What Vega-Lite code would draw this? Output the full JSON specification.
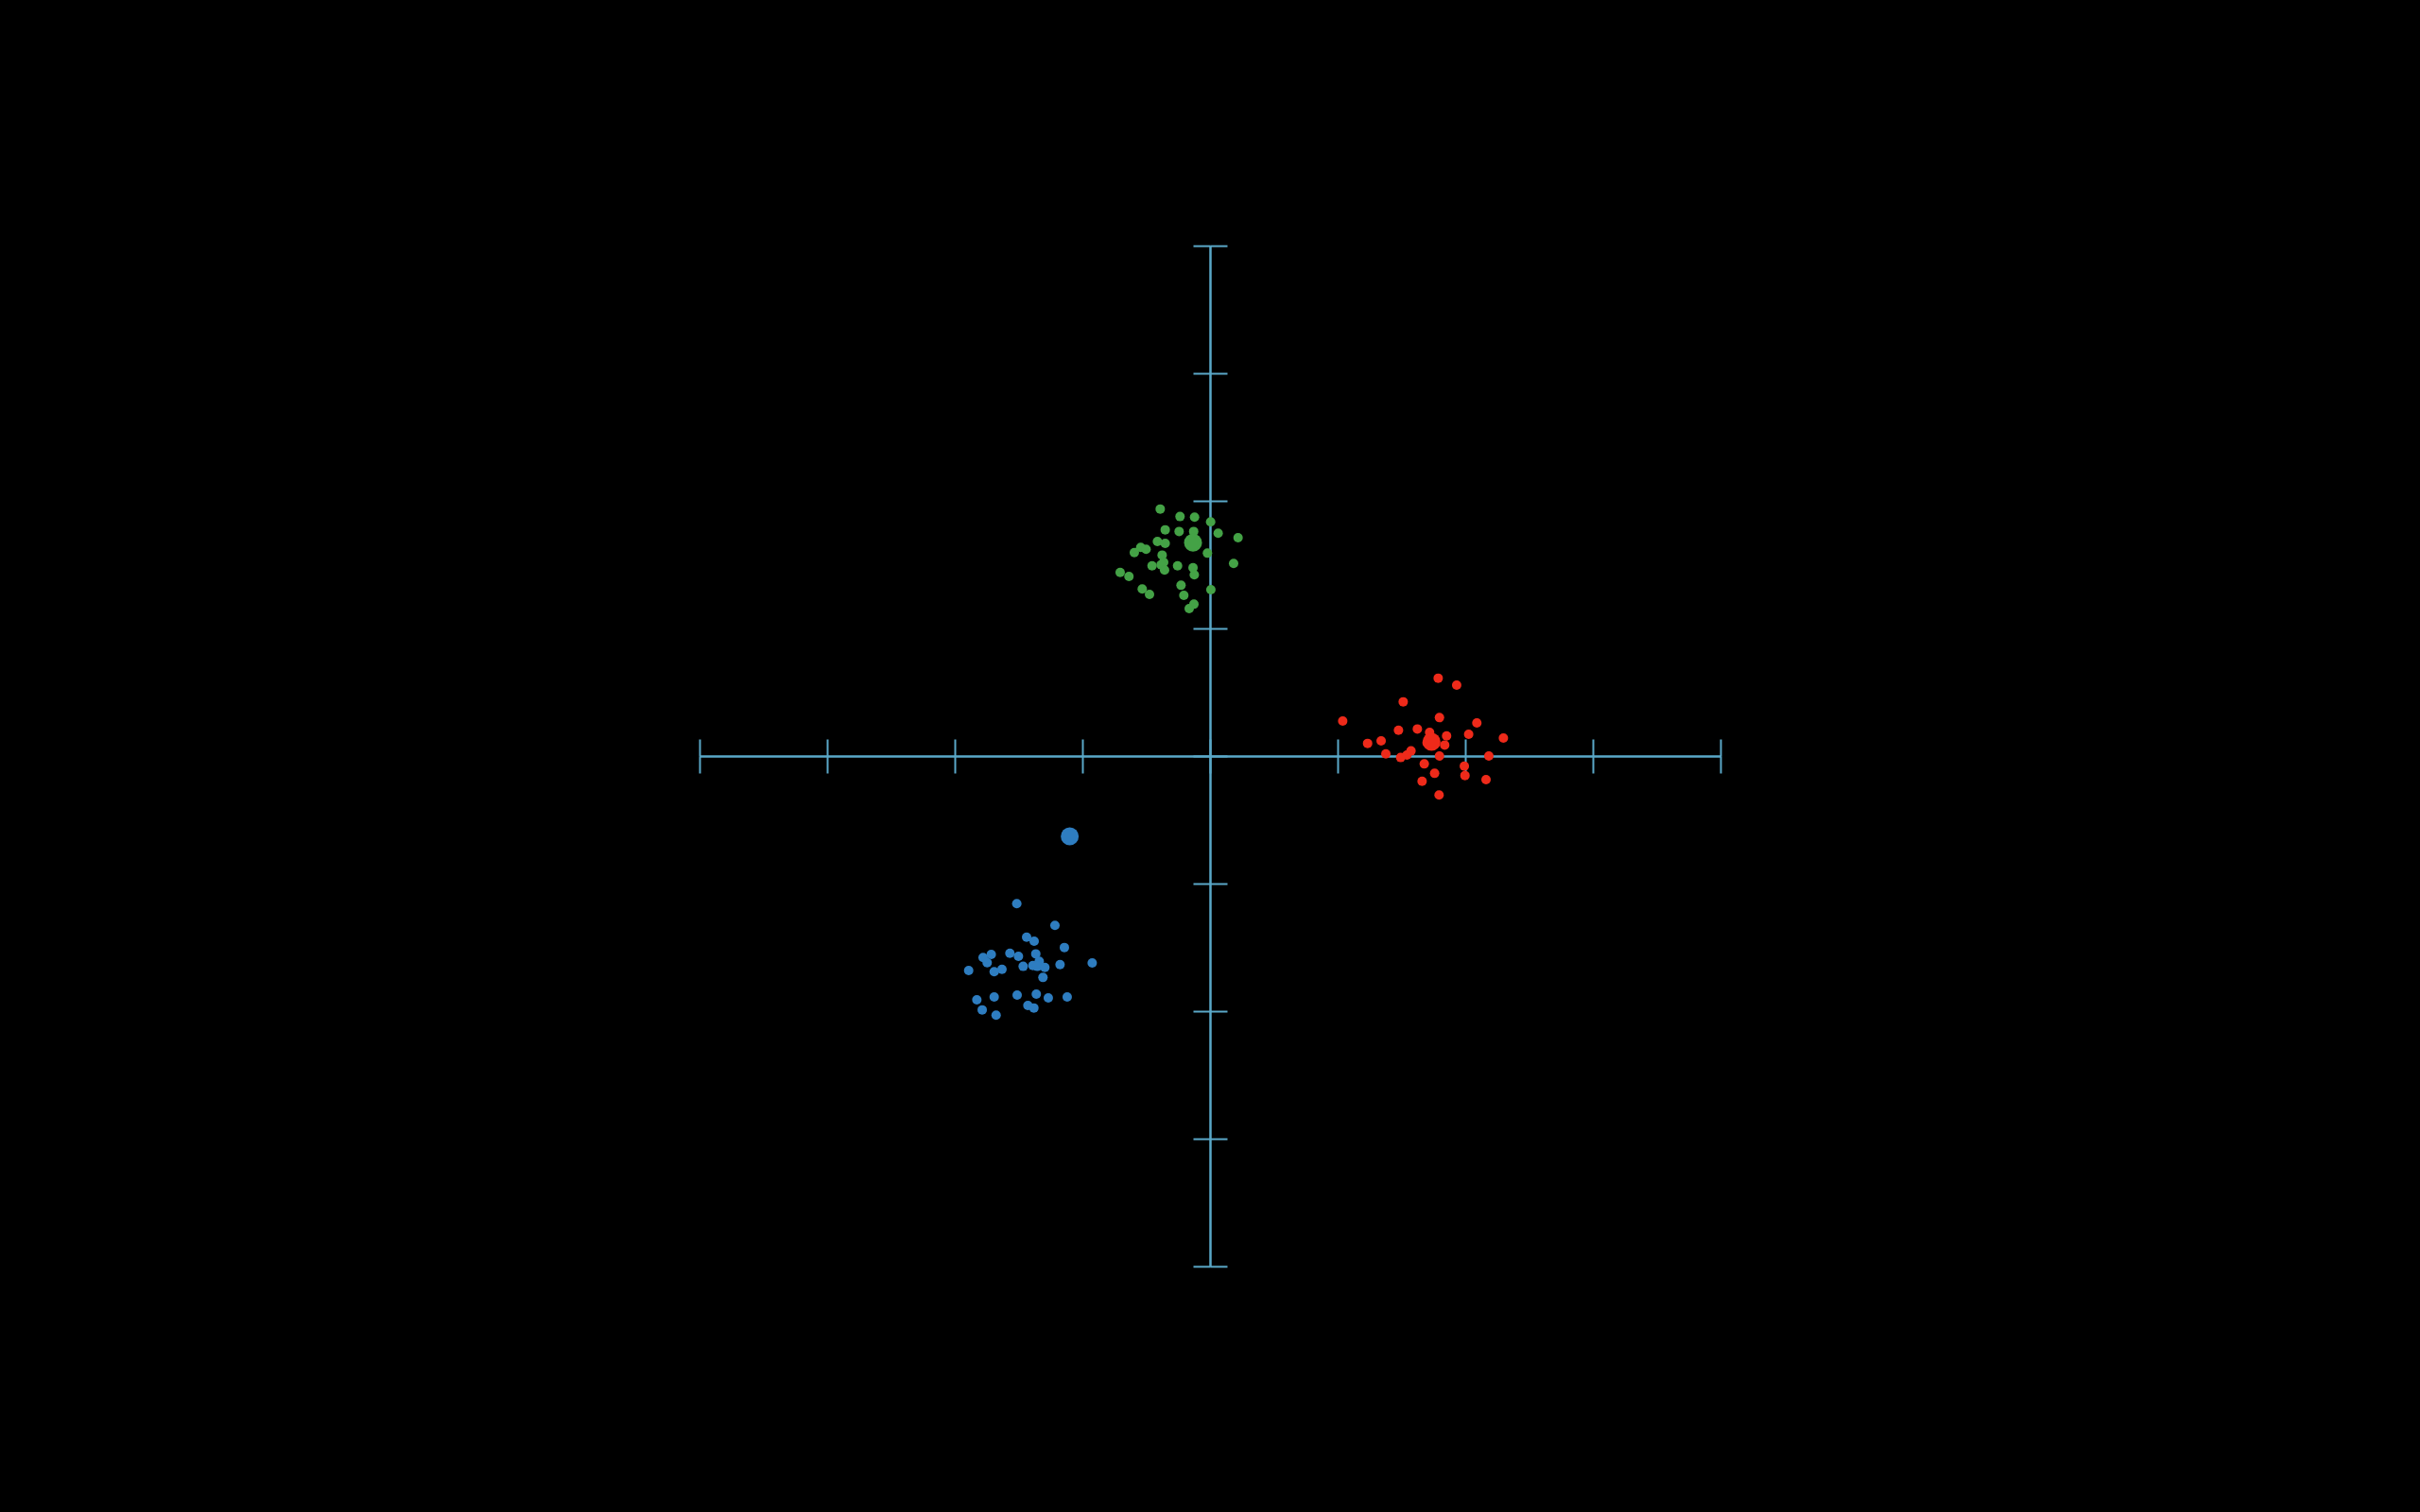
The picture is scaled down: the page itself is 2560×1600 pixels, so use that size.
{
  "$schema": "https://vega.github.io/schema/vega-lite/v6.json",
  "width": 1080,
  "height": 1080,
  "autosize": {"type": "none"},
  "padding": {"left": 740, "right": 740, "top": 260, "bottom": 260},
  "background": "#000000",
  "config": {"view": {"stroke": null}},
  "data": {"values": [
    {"cluster": "green", "kind": "point", "x": -0.390, "y": 1.936},
    {"cluster": "green", "kind": "point", "x": -0.235, "y": 1.877},
    {"cluster": "green", "kind": "point", "x": -0.121, "y": 1.872},
    {"cluster": "green", "kind": "point", "x": 0.005, "y": 1.835},
    {"cluster": "green", "kind": "point", "x": -0.351, "y": 1.773},
    {"cluster": "green", "kind": "point", "x": -0.242, "y": 1.760},
    {"cluster": "green", "kind": "point", "x": -0.128, "y": 1.760},
    {"cluster": "green", "kind": "point", "x": 0.064, "y": 1.746},
    {"cluster": "green", "kind": "point", "x": 0.220, "y": 1.711},
    {"cluster": "green", "kind": "point", "x": -0.412, "y": 1.681},
    {"cluster": "green", "kind": "point", "x": -0.351, "y": 1.667},
    {"cluster": "green", "kind": "point", "x": -0.543, "y": 1.635},
    {"cluster": "green", "kind": "point", "x": -0.501, "y": 1.620},
    {"cluster": "green", "kind": "point", "x": -0.593, "y": 1.595},
    {"cluster": "green", "kind": "point", "x": -0.020, "y": 1.590},
    {"cluster": "green", "kind": "point", "x": -0.375, "y": 1.575},
    {"cluster": "green", "kind": "point", "x": -0.363, "y": 1.519},
    {"cluster": "green", "kind": "point", "x": -0.454, "y": 1.491},
    {"cluster": "green", "kind": "point", "x": -0.254, "y": 1.491},
    {"cluster": "green", "kind": "point", "x": -0.383, "y": 1.499},
    {"cluster": "green", "kind": "point", "x": -0.356, "y": 1.457},
    {"cluster": "green", "kind": "point", "x": 0.185, "y": 1.509},
    {"cluster": "green", "kind": "point", "x": -0.133, "y": 1.476},
    {"cluster": "green", "kind": "point", "x": -0.123, "y": 1.420},
    {"cluster": "green", "kind": "point", "x": -0.704, "y": 1.439},
    {"cluster": "green", "kind": "point", "x": -0.635, "y": 1.407},
    {"cluster": "green", "kind": "point", "x": -0.227, "y": 1.338},
    {"cluster": "green", "kind": "point", "x": -0.531, "y": 1.309},
    {"cluster": "green", "kind": "point", "x": -0.474, "y": 1.267},
    {"cluster": "green", "kind": "point", "x": 0.007, "y": 1.304},
    {"cluster": "green", "kind": "point", "x": -0.205, "y": 1.259},
    {"cluster": "green", "kind": "point", "x": -0.126, "y": 1.190},
    {"cluster": "green", "kind": "point", "x": -0.163, "y": 1.156},
    {"cluster": "red", "kind": "point", "x": 1.788, "y": 0.610},
    {"cluster": "red", "kind": "point", "x": 1.933, "y": 0.556},
    {"cluster": "red", "kind": "point", "x": 1.514, "y": 0.425},
    {"cluster": "red", "kind": "point", "x": 1.040, "y": 0.274},
    {"cluster": "red", "kind": "point", "x": 1.798, "y": 0.301},
    {"cluster": "red", "kind": "point", "x": 2.091, "y": 0.259},
    {"cluster": "red", "kind": "point", "x": 1.477, "y": 0.202},
    {"cluster": "red", "kind": "point", "x": 1.625, "y": 0.212},
    {"cluster": "red", "kind": "point", "x": 1.721, "y": 0.185},
    {"cluster": "red", "kind": "point", "x": 1.854, "y": 0.158},
    {"cluster": "red", "kind": "point", "x": 2.027, "y": 0.170},
    {"cluster": "red", "kind": "point", "x": 2.299, "y": 0.141},
    {"cluster": "red", "kind": "point", "x": 1.235, "y": 0.099},
    {"cluster": "red", "kind": "point", "x": 1.341, "y": 0.119},
    {"cluster": "red", "kind": "point", "x": 1.701, "y": 0.104},
    {"cluster": "red", "kind": "point", "x": 1.765, "y": 0.099},
    {"cluster": "red", "kind": "point", "x": 1.839, "y": 0.086},
    {"cluster": "red", "kind": "point", "x": 1.378, "y": 0.017},
    {"cluster": "red", "kind": "point", "x": 1.575, "y": 0.040},
    {"cluster": "red", "kind": "point", "x": 1.543, "y": 0.007},
    {"cluster": "red", "kind": "point", "x": 1.494, "y": -0.012},
    {"cluster": "red", "kind": "point", "x": 1.798, "y": 0.000},
    {"cluster": "red", "kind": "point", "x": 2.185, "y": 0.000},
    {"cluster": "red", "kind": "point", "x": 1.679, "y": -0.062},
    {"cluster": "red", "kind": "point", "x": 1.993, "y": -0.079},
    {"cluster": "red", "kind": "point", "x": 1.760, "y": -0.136},
    {"cluster": "red", "kind": "point", "x": 1.998, "y": -0.153},
    {"cluster": "red", "kind": "point", "x": 1.662, "y": -0.198},
    {"cluster": "red", "kind": "point", "x": 2.163, "y": -0.185},
    {"cluster": "red", "kind": "point", "x": 1.795, "y": -0.306},
    {"cluster": "red", "kind": "point", "x": 1.741, "y": 0.136},
    {"cluster": "blue", "kind": "point", "x": -1.514, "y": -1.158},
    {"cluster": "blue", "kind": "point", "x": -1.215, "y": -1.328},
    {"cluster": "blue", "kind": "point", "x": -1.437, "y": -1.420},
    {"cluster": "blue", "kind": "point", "x": -1.378, "y": -1.452},
    {"cluster": "blue", "kind": "point", "x": -1.141, "y": -1.501},
    {"cluster": "blue", "kind": "point", "x": -1.778, "y": -1.580},
    {"cluster": "blue", "kind": "point", "x": -1.714, "y": -1.556},
    {"cluster": "blue", "kind": "point", "x": -1.746, "y": -1.620},
    {"cluster": "blue", "kind": "point", "x": -1.568, "y": -1.546},
    {"cluster": "blue", "kind": "point", "x": -1.501, "y": -1.570},
    {"cluster": "blue", "kind": "point", "x": -1.365, "y": -1.551},
    {"cluster": "blue", "kind": "point", "x": -0.923, "y": -1.622},
    {"cluster": "blue", "kind": "point", "x": -1.891, "y": -1.681},
    {"cluster": "blue", "kind": "point", "x": -1.691, "y": -1.691},
    {"cluster": "blue", "kind": "point", "x": -1.630, "y": -1.672},
    {"cluster": "blue", "kind": "point", "x": -1.464, "y": -1.649},
    {"cluster": "blue", "kind": "point", "x": -1.388, "y": -1.642},
    {"cluster": "blue", "kind": "point", "x": -1.338, "y": -1.610},
    {"cluster": "blue", "kind": "point", "x": -1.353, "y": -1.649},
    {"cluster": "blue", "kind": "point", "x": -1.294, "y": -1.657},
    {"cluster": "blue", "kind": "point", "x": -1.175, "y": -1.635},
    {"cluster": "blue", "kind": "point", "x": -1.309, "y": -1.736},
    {"cluster": "blue", "kind": "point", "x": -1.827, "y": -1.911},
    {"cluster": "blue", "kind": "point", "x": -1.691, "y": -1.889},
    {"cluster": "blue", "kind": "point", "x": -1.511, "y": -1.874},
    {"cluster": "blue", "kind": "point", "x": -1.361, "y": -1.867},
    {"cluster": "blue", "kind": "point", "x": -1.267, "y": -1.896},
    {"cluster": "blue", "kind": "point", "x": -1.119, "y": -1.889},
    {"cluster": "blue", "kind": "point", "x": -1.785, "y": -1.990},
    {"cluster": "blue", "kind": "point", "x": -1.676, "y": -2.032},
    {"cluster": "blue", "kind": "point", "x": -1.427, "y": -1.956},
    {"cluster": "blue", "kind": "point", "x": -1.380, "y": -1.975},
    {"cluster": "green", "kind": "centroid", "x": -0.133, "y": 1.672},
    {"cluster": "red", "kind": "centroid", "x": 1.736, "y": 0.111},
    {"cluster": "blue", "kind": "centroid", "x": -1.099, "y": -0.630}
  ]},
  "resolve": {"axis": {"x": "independent", "y": "independent"}},
  "layer": [
    {
      "transform": [{"filter": "datum.kind === 'point'"}],
      "mark": {"type": "circle", "size": 100, "opacity": 1, "strokeWidth": 0},
      "encoding": {
        "x": {"field": "x", "type": "quantitative",
              "scale": {"domain": [-4, 4], "nice": false, "zero": false},
              "axis": {"orient": "bottom", "offset": -540, "values": [-4, -3, -2, -1, 0, 1, 2, 3, 4],
                       "labels": false, "title": null, "grid": false,
                       "domainColor": "#5aa8c8", "domainWidth": 2, "tickColor": "#5aa8c8", "tickWidth": 2, "tickSize": 18}},
        "y": {"field": "y", "type": "quantitative",
              "scale": {"domain": [-4, 4], "nice": false, "zero": false},
              "axis": {"orient": "left", "offset": -540, "values": [-4, -3, -2, -1, 0, 1, 2, 3, 4],
                       "labels": false, "title": null, "grid": false,
                       "domainColor": "#5aa8c8", "domainWidth": 2, "tickColor": "#5aa8c8", "tickWidth": 2, "tickSize": 18}},
        "color": {"field": "cluster", "type": "nominal", "legend": null,
                  "scale": {"domain": ["green", "red", "blue"], "range": ["#44a246", "#ee2a1a", "#2e7dc0"]}}
      }
    },
    {
      "transform": [{"filter": "datum.kind === 'centroid'"}],
      "mark": {"type": "circle", "size": 360, "opacity": 1, "strokeWidth": 0},
      "encoding": {
        "x": {"field": "x", "type": "quantitative",
              "scale": {"domain": [-4, 4], "nice": false, "zero": false},
              "axis": {"orient": "top", "offset": -540, "values": [-4, -3, -2, -1, 0, 1, 2, 3, 4],
                       "labels": false, "title": null, "grid": false,
                       "domainColor": "#5aa8c8", "domainWidth": 2, "tickColor": "#5aa8c8", "tickWidth": 2, "tickSize": 18}},
        "y": {"field": "y", "type": "quantitative",
              "scale": {"domain": [-4, 4], "nice": false, "zero": false},
              "axis": {"orient": "right", "offset": -540, "values": [-4, -3, -2, -1, 0, 1, 2, 3, 4],
                       "labels": false, "title": null, "grid": false,
                       "domainColor": "#5aa8c8", "domainWidth": 2, "tickColor": "#5aa8c8", "tickWidth": 2, "tickSize": 18}},
        "color": {"field": "cluster", "type": "nominal", "legend": null,
                  "scale": {"domain": ["green", "red", "blue"], "range": ["#44a246", "#ee2a1a", "#2e7dc0"]}}
      }
    }
  ]
}
